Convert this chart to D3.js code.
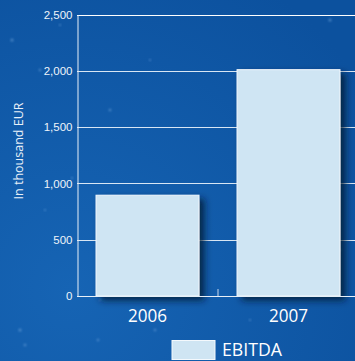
<!DOCTYPE html>
<html><head><meta charset="utf-8">
<script src="https://cdn.jsdelivr.net/npm/d3@7"></script>
<style>
html,body{margin:0;padding:0;background:#1159a8;}
svg{display:block;font-family:"Open Sans","Noto Sans",sans-serif;}
</style></head>
<body>
<script>
const categories = ["2006", "2007"];
const ebitda = [895, 2010];
const yTicks = [0, 500, 1000, 1500, 2000, 2500];
const yTickLabels = ["0", "500", "1,000", "1,500", "2,000", "2,500"];
const seriesName = "EBITDA";
const yTitle = "In thousand EUR";
const stars = [[12,40,1.5],[40,70,1.2],[60,25,1],[110,110,1.3],[150,60,1],[290,150,1.2],[330,20,1.5],[20,330,1.5],[155,330,1.2],[100,300,1],[45,210,1],[250,320,1],[340,250,1.2],[200,240,1],[260,190,1],[25,345,1.3],[98,340,1.2],[72,178,1],[325,105,1.2]];

const W = 355, H = 361;
const svg = d3.select("body").append("svg").attr("width", W).attr("height", H);
const defs = svg.append("defs");
const rg = defs.append("radialGradient").attr("id","bg").attr("cx","0.2").attr("cy","0.8").attr("r","1.0");
rg.append("stop").attr("offset","0").attr("stop-color","#1664b4");
rg.append("stop").attr("offset","1").attr("stop-color","#0c519e");
svg.append("rect").attr("width",W).attr("height",H).attr("fill","url(#bg)");
const blur = defs.append("filter").attr("id","blur").attr("x","-50%").attr("y","-50%").attr("width","200%").attr("height","200%");
blur.append("feGaussianBlur").attr("stdDeviation", 1);
svg.append("g").selectAll("circle").data(stars).join("circle")
  .attr("cx", d=>d[0]).attr("cy", d=>d[1]).attr("r", d=>d[2])
  .attr("fill","#7fb0e4").attr("opacity",0.55).attr("filter","url(#blur)");

const shadow = defs.append("filter").attr("id","sh").attr("x","-20%").attr("y","-20%").attr("width","150%").attr("height","150%");
shadow.append("feDropShadow").attr("dx",5).attr("dy",4).attr("stdDeviation",3.5).attr("flood-color","#021530").attr("flood-opacity",0.8);

const x0 = 77, x1 = 359, yTop = 14.5, yBot = 296;
const y = d3.scaleLinear().domain([0, 2500]).range([yBot, yTop]);
const x = d3.scaleBand().domain(categories).range([x0, x1]).paddingInner(0.27).paddingOuter(0.135);

// gridlines
svg.append("g").selectAll("line").data(yTicks.slice(1)).join("line")
  .attr("x1", x0).attr("x2", W).attr("y1", d=>Math.round(y(d))+0.5).attr("y2", d=>Math.round(y(d))+0.5)
  .attr("stroke", d=> d===2500 ? "#ffffff" : "#d8e6f4").attr("stroke-width", 1);

// y axis
const yAxis = d3.axisLeft(y).tickValues(yTicks).tickFormat((d,i)=>yTickLabels[i]).tickSize(0).tickPadding(5);
const ga = svg.append("g").attr("transform", `translate(${x0+0.5},0)`).call(yAxis);
ga.select(".domain").attr("stroke","#e8f0f8");
ga.selectAll("text").attr("fill","#eef4fa").attr("font-size", 11.5);

// bars
svg.append("g").selectAll("rect").data(ebitda).join("rect")
  .attr("x", (d,i)=>x(categories[i])).attr("width", x.bandwidth())
  .attr("y", d=>y(d)).attr("height", d=>yBot - y(d))
  .attr("fill","#cfe5f3").attr("stroke","#f4f9fd").attr("stroke-width",1)
  .attr("filter","url(#sh)");

// x axis
svg.append("line").attr("x1", x0).attr("x2", W).attr("y1", yBot+0.5).attr("y2", yBot+0.5).attr("stroke","#e8f0f8");
const mid = (x(categories[0]) + x.bandwidth() + x(categories[1]))/2;
svg.append("line").attr("x1", mid).attr("x2", mid).attr("y1", yBot-7).attr("y2", yBot).attr("stroke","#c8d8ec");
svg.append("g").selectAll("text").data(categories).join("text")
  .attr("x", d=>x(d)+x.bandwidth()/2).attr("y", 322)
  .attr("text-anchor","middle").attr("fill","#ffffff").attr("font-size", 18)
  .attr("textLength", 39).attr("lengthAdjust","spacingAndGlyphs").text(d=>d);

// y title
svg.append("text").attr("transform","translate(23,151) rotate(-90)")
  .attr("text-anchor","middle").attr("fill","#e8f0f8").attr("font-size", 12.5).text(yTitle);

// legend
svg.append("rect").attr("x",172).attr("y",340.5).attr("width",43).attr("height",19)
  .attr("fill","#cfe5f3").attr("stroke","#f4f9fd");
svg.append("text").attr("x",222).attr("y",356).attr("fill","#ffffff").attr("font-size",18)
  .attr("textLength", 60).attr("lengthAdjust","spacingAndGlyphs").text(seriesName);
</script>
</body></html>
